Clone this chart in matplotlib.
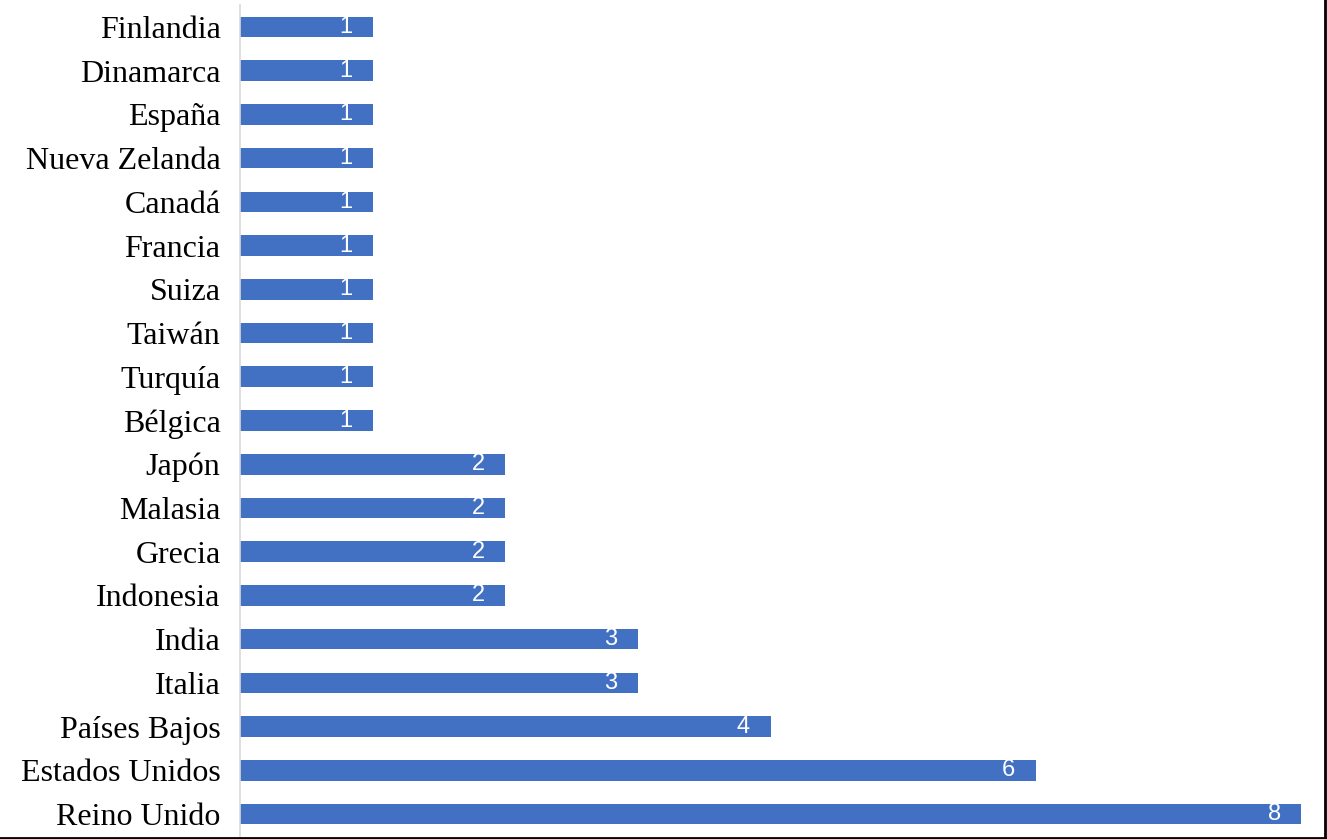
import matplotlib
matplotlib.use("Agg")
import matplotlib.pyplot as plt
from matplotlib.lines import Line2D

# Countries from top to bottom and their counts
countries = ["Finlandia", "Dinamarca", "España", "Nueva Zelanda", "Canadá",
             "Francia", "Suiza", "Taiwán", "Turquía", "Bélgica", "Japón",
             "Malasia", "Grecia", "Indonesia", "India", "Italia",
             "Países Bajos", "Estados Unidos", "Reino Unido"]
counts = [1, 1, 1, 1, 1, 1, 1, 1, 1, 1, 2, 2, 2, 2, 3, 3, 4, 6, 8]

W, H = 1327, 839
fig = plt.figure(figsize=(W / 100, H / 100), dpi=100)
ax = fig.add_axes([240 / W, 3 / H, (1321 - 240) / W, (834 - 3) / H])

ypos = list(range(len(countries)))
ax.barh(ypos, counts, height=0.47, color="#4270C2", zorder=2)

ax.set_ylim(len(countries) - 0.5, -0.5)
ax.set_xlim(0, 8.15)

ax.set_yticks(ypos)
ax.set_yticklabels(countries, fontfamily="Liberation Serif", fontsize=23,
                   color="#000000")
ax.tick_params(axis="y", length=0, pad=14)
ax.set_xticks([])

for side in ("top", "right", "bottom"):
    ax.spines[side].set_visible(False)
ax.spines["left"].set_color("#d9d9d9")
ax.spines["left"].set_linewidth(1.2)

for y, v in zip(ypos, counts):
    ax.annotate(str(v), xy=(v, y), xytext=(-27, 0), textcoords="offset pixels",
                ha="center", va="center", color="white",
                fontfamily="Liberation Sans", fontsize=17)

# Frame lines along the right and bottom edges of the figure
fig.add_artist(Line2D([0, 1325 / W], [1.5 / H, 1.5 / H], color="black",
                      lw=2, transform=fig.transFigure))
fig.add_artist(Line2D([1325 / W, 1325 / W], [1.5 / H, 1], color="black",
                      lw=2, transform=fig.transFigure))

fig.savefig("out.png", dpi=100)
